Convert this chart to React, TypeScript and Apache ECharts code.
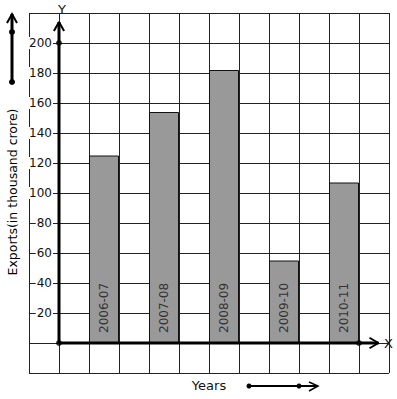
import React, { useEffect, useRef } from "react";
import * as echarts from "echarts";

const categories = ["2006-07", "2007-08", "2008-09", "2009-10", "2010-11"];
const positions = [1.5, 3.5, 5.5, 7.5, 9.5];
const exportsValues = [125, 154, 182, 55, 107];
const yTicks = [20, 40, 60, 80, 100, 120, 140, 160, 180, 200];

const FONT = "DejaVu Sans";

export default function App() {
  const ref = useRef<HTMLDivElement>(null);
  useEffect(() => {
    if (!ref.current) return;
    const chart = echarts.init(ref.current, null, { renderer: "svg" });
    const black = "#000";
    chart.setOption({
      animation: false,
      grid: { left: 29, top: 13, width: 360, height: 360, show: false },
      xAxis: {
        type: "value",
        min: -1,
        max: 11,
        interval: 1,
        axisLine: { show: false },
        axisTick: { show: false },
        axisLabel: { show: false },
        splitLine: { show: true, lineStyle: { color: "#222", width: 1 } },
      },
      yAxis: {
        type: "value",
        min: -20,
        max: 220,
        interval: 20,
        axisLine: { show: false },
        axisTick: { show: false },
        splitLine: { show: true, lineStyle: { color: "#222", width: 1 } },
        axisLabel: {
          inside: true,
          margin: 24,
          align: "right",
          fontFamily: FONT,
          fontSize: 12,
          color: "#111",
          backgroundColor: "#fff",
          padding: [0, 1, 0, 1],
          formatter: (v: number) => (yTicks.includes(v) ? String(v) : ""),
          showMinLabel: false,
          showMaxLabel: false,
        },
      },
      series: [
        {
          type: "bar",
          barWidth: 30,
          data: positions.map((p, i) => [p, exportsValues[i]]),
          itemStyle: { color: "#999999", borderColor: "#111", borderWidth: 1 },
          label: {
            show: true,
            position: "insideBottom",
            rotate: 90,
            align: "left",
            verticalAlign: "middle",
            distance: 10,
            fontFamily: FONT,
            fontSize: 12,
            color: "#333",
            formatter: (p: any) => categories[p.dataIndex],
          },
        },
        {
          type: "line",
          data: [[0, 0], [0, 214]],
          symbol: "none",
          lineStyle: { color: black, width: 3 },
        },
        {
          type: "line",
          data: [[-0.17, 208], [0, 214], [0.17, 208]],
          symbol: "none",
          lineStyle: { color: black, width: 2 },
        },
        {
          type: "line",
          data: [[0, 0], [10.65, 0]],
          symbol: "none",
          lineStyle: { color: black, width: 3 },
        },
        {
          type: "line",
          data: [[10.35, 3.5], [10.65, 0], [10.35, -3.5]],
          symbol: "none",
          lineStyle: { color: black, width: 2 },
        },
        {
          type: "scatter",
          data: [[0, 0], [0, 200], [10, 0]],
          symbolSize: 6,
          itemStyle: { color: black },
        },
      ],
      graphic: [
        {
          type: "text",
          left: 56,
          top: 3,
          style: {
            text: "Y",
            fontFamily: FONT,
            fontSize: 13,
            fill: "#111",
            backgroundColor: "#fff",
            padding: [0, 2, 0, 2],
          },
        },
        {
          type: "text",
          x: 383,
          y: 343,
          style: {
            text: "X",
            fontFamily: FONT,
            fontSize: 13,
            fill: "#111",
            backgroundColor: "#fff",
            verticalAlign: "middle",
            padding: [0, 1, 0, 1],
          },
        },
        {
          type: "text",
          x: 12,
          y: 192,
          rotation: Math.PI / 2,
          style: {
            text: "Exports(in thousand crore)",
            fontFamily: FONT,
            fontSize: 12.5,
            fill: "#000",
            align: "center",
            verticalAlign: "middle",
          },
        },
        {
          type: "text",
          x: 209,
          y: 385,
          style: {
            text: "Years",
            fontFamily: FONT,
            fontSize: 13,
            fill: "#111",
            align: "center",
            verticalAlign: "middle",
          },
        },
        // left vertical arrow decoration
        { type: "line", shape: { x1: 12, y1: 82, x2: 12, y2: 14 }, style: { stroke: black, lineWidth: 3 } },
        { type: "polyline", shape: { points: [[7, 23], [12, 14], [17, 23]] }, style: { stroke: black, lineWidth: 2, fill: null } },
        { type: "circle", shape: { cx: 12, cy: 32, r: 3 }, style: { fill: black } },
        { type: "circle", shape: { cx: 12, cy: 82, r: 3 }, style: { fill: black } },
        // bottom horizontal arrow decoration
        { type: "line", shape: { x1: 249, y1: 386, x2: 318, y2: 386 }, style: { stroke: black, lineWidth: 2 } },
        { type: "polyline", shape: { points: [[309, 382], [318, 386], [309, 391]] }, style: { stroke: black, lineWidth: 1.5, fill: null } },
        { type: "circle", shape: { cx: 249, cy: 386, r: 2.5 }, style: { fill: black } },
        { type: "circle", shape: { cx: 299, cy: 386, r: 2.5 }, style: { fill: black } },
      ],
    });
    return () => chart.dispose();
  }, []);
  return (
    <div
      ref={ref}
      style={{ position: "fixed", left: 0, top: 0, width: 397, height: 399, background: "#fff" }}
    />
  );
}
